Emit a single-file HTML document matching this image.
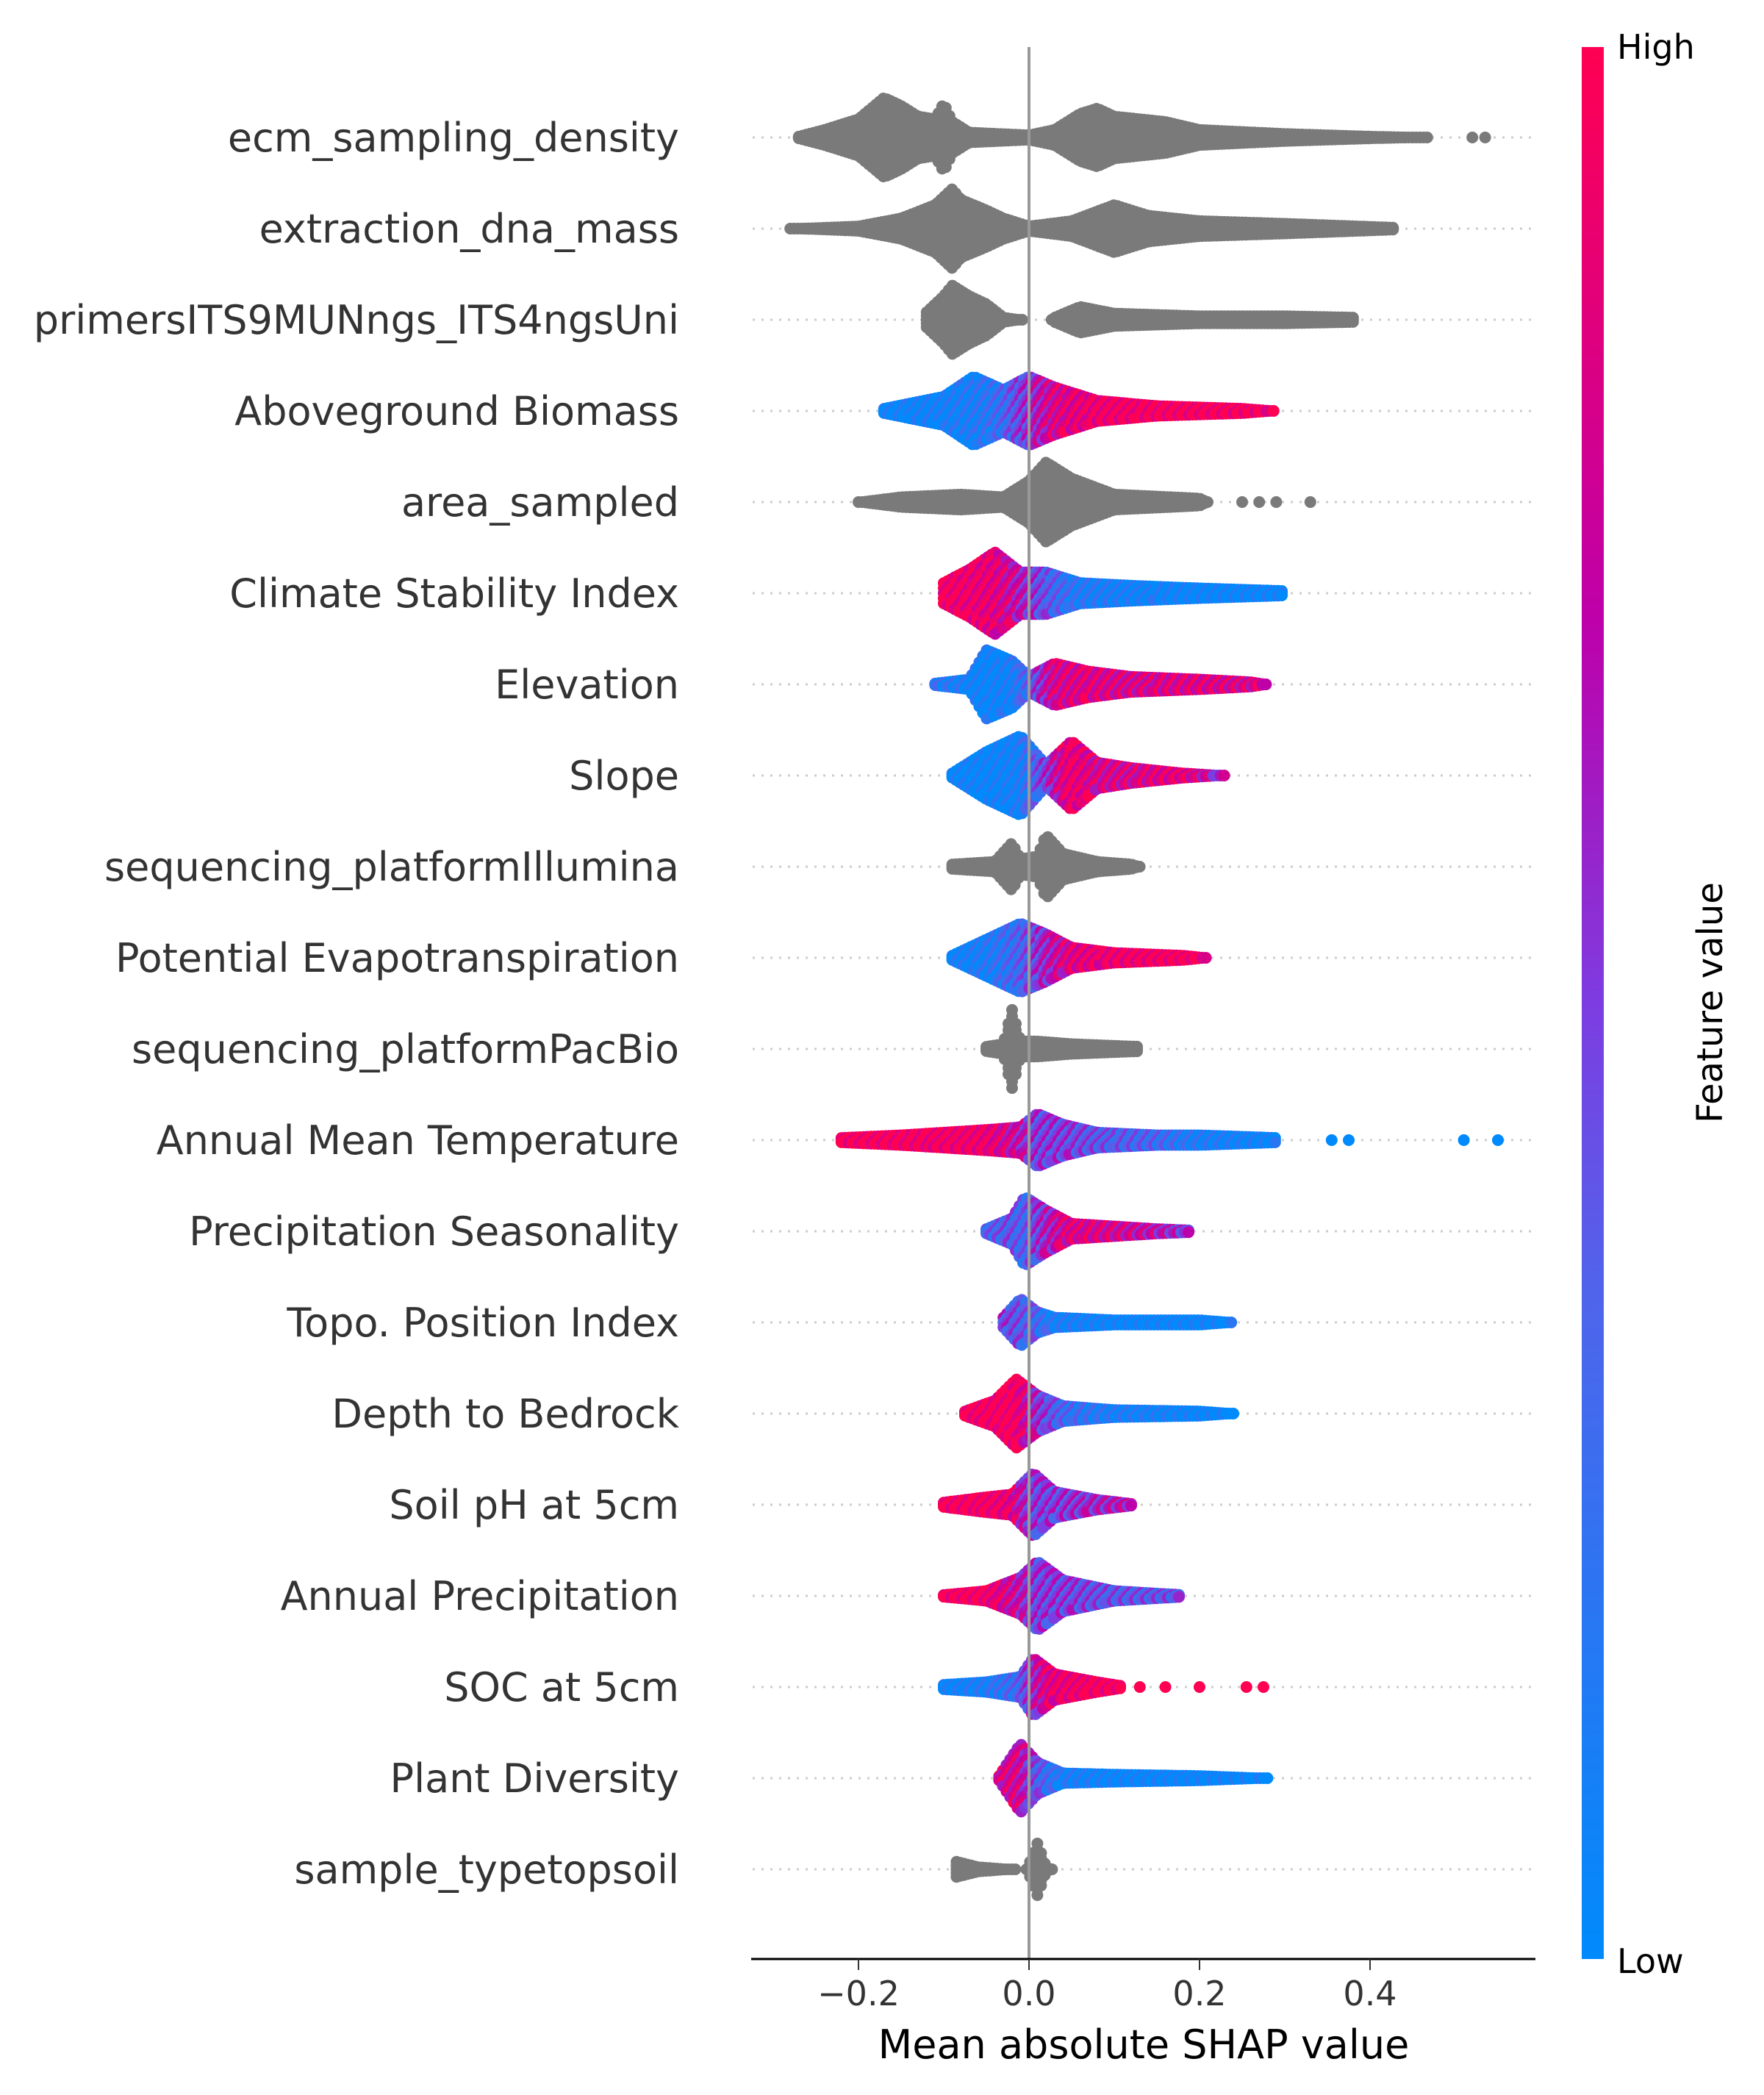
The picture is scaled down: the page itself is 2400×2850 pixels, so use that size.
<!DOCTYPE html>
<html><head><meta charset="utf-8"><style>
html,body{margin:0;padding:0;background:#fff;}
svg{display:block;font-family:"DejaVu Sans","Liberation Sans",sans-serif;}
</style></head><body>
<svg id="chart" width="2400" height="2850" viewBox="0 0 2400 2850">
<defs><linearGradient id="cb" x1="0" y1="1" x2="0" y2="0">
<stop offset="0" stop-color="rgb(0,138,251)"/><stop offset="0.35" stop-color="rgb(80,100,235)"/><stop offset="0.5" stop-color="rgb(125,60,225)"/><stop offset="0.7" stop-color="rgb(190,0,170)"/><stop offset="1" stop-color="rgb(255,0,82)"/></linearGradient></defs>
<g id="grid"></g><g id="dots"></g><g id="labels"></g>
<line x1="1400" y1="64" x2="1400" y2="2665" stroke="#999" stroke-width="4"/>
<line x1="1022" y1="2665" x2="2089" y2="2665" stroke="#000" stroke-width="3"/>
<g id="ticks"></g>
<text x="1556" y="2800" font-size="54" text-anchor="middle" fill="#000">Mean absolute SHAP value</text>
<rect x="2152" y="64" width="30" height="2601" fill="url(#cb)"/>
<text x="2200" y="80" font-size="46" fill="#000">High</text>
<text x="2200" y="2684" font-size="46" fill="#000">Low</text>
<text x="0" y="0" font-size="48" fill="#000" text-anchor="middle" transform="translate(2343,1364) rotate(-90)">Feature value</text>
</svg>
<script>
const features=["ecm_sampling_density","extraction_dna_mass","primersITS9MUNngs_ITS4ngsUni","Aboveground Biomass","area_sampled","Climate Stability Index","Elevation","Slope","sequencing_platformIllumina","Potential Evapotranspiration","sequencing_platformPacBio","Annual Mean Temperature","Precipitation Seasonality","Topo. Position Index","Depth to Bedrock","Soil pH at 5cm","Annual Precipitation","SOC at 5cm","Plant Diversity","sample_typetopsoil"];
// each knot: [shap value, density half-width, feature-value color (null = gray)]
const densities=[
[[-0.27,5],[-0.24,10],[-0.2,18],[-0.185,26],[-0.17,34],[-0.15,28],[-0.13,20],[-0.11,18],[-0.1,30],[-0.09,16],[-0.07,8],[0,6],[0.03,10],[0.06,22],[0.08,26],[0.1,20],[0.13,18],[0.16,16],[0.2,10],[0.3,7],[0.4,5],[0.47,4]],
[[-0.28,4],[-0.2,6],[-0.15,12],[-0.11,22],[-0.09,34],[-0.08,26],[-0.05,18],[-0.03,12],[0,6],[0.05,10],[0.1,22],[0.12,18],[0.14,14],[0.2,10],[0.3,8],[0.43,5]],
[[-0.12,10],[-0.1,22],[-0.09,30],[-0.07,22],[-0.05,16],[-0.03,6],[-0.01,4],[-0.005,0],[0.025,0],[0.03,6],[0.06,14],[0.1,9],[0.2,7],[0.3,7],[0.38,6]],
[[-0.17,6,0],[-0.1,15,0.05],[-0.065,30,0.1],[-0.03,20,0.25],[0,30,0.55],[0.03,22,0.8],[0.08,12,0.95],[0.15,8,1],[0.25,6,1],[0.29,4,1]],
[[-0.2,4],[-0.15,8],[-0.08,10],[-0.03,8],[0,20],[0.02,34],[0.05,22],[0.1,10],[0.2,7],[0.21,4]],
[[-0.1,12,1],[-0.07,22,0.95],[-0.04,35,0.9],[-0.01,20,0.7],[0.02,20,0.4],[0.06,12,0.15],[0.12,10,0.05],[0.2,8,0],[0.3,6,0]],
[[-0.11,5,0.2],[-0.07,8,0.05],[-0.05,30,0],[-0.02,22,0.05],[0,10,0.3],[0.03,20,0.8],[0.07,14,0.85],[0.12,10,0.8],[0.2,8,0.85],[0.26,6,0.8],[0.28,4,0.9]],
[[-0.09,6,0],[-0.05,22,0],[-0.01,34,0.05],[0.02,12,0.5],[0.05,30,0.95],[0.08,14,0.8],[0.12,10,0.8],[0.18,6,0.9],[0.23,4,0.6]],
[[-0.09,6],[-0.04,8],[-0.02,22],[-0.01,10],[0.01,12],[0.02,28],[0.04,14],[0.08,8],[0.12,6],[0.13,4]],
[[-0.09,6,0],[-0.05,18,0.1],[-0.01,30,0.3],[0.02,22,0.6],[0.05,12,0.85],[0.1,8,0.95],[0.18,6,1],[0.21,4,1]],
[[-0.05,6],[-0.03,8],[-0.02,34],[-0.01,10],[0.01,10],[0.05,8],[0.13,6]],
[[-0.22,6,1],[-0.15,8,1],[-0.05,12,0.95],[-0.01,14,0.7],[0.01,24,0.5],[0.04,16,0.5],[0.08,10,0.4],[0.15,8,0.3],[0.2,8,0.1],[0.29,6,0]],
[[-0.05,6,0.3],[-0.02,14,0.4],[-0.005,30,0.3],[0.02,20,0.6],[0.05,10,0.85],[0.1,8,0.8],[0.15,6,0.7],[0.19,5,0.5]],
[[-0.03,8,0.5],[-0.01,22,0.4],[0.01,12,0.3],[0.03,8,0.1],[0.1,6,0],[0.2,6,0],[0.24,4,0]],
[[-0.075,6,1],[-0.04,14,1],[-0.015,30,1],[0.01,18,0.6],[0.04,10,0.3],[0.1,7,0.1],[0.2,6,0],[0.24,4,0]],
[[-0.1,6,1],[-0.05,10,1],[-0.02,12,0.9],[0.005,28,0.5],[0.03,14,0.5],[0.08,8,0.6],[0.12,5,0.7]],
[[-0.1,5,1],[-0.05,8,1],[-0.01,18,0.7],[0.01,30,0.5],[0.04,16,0.5],[0.1,8,0.4],[0.18,5,0.4]],
[[-0.1,6,0],[-0.05,8,0.1],[-0.01,12,0.3],[0.005,26,0.6],[0.03,14,0.9],[0.08,8,1],[0.11,5,1]],
[[-0.035,6,0.8],[-0.01,30,0.8],[0.01,16,0.4],[0.04,8,0.1],[0.1,7,0],[0.2,6,0],[0.28,4,0]],
[[-0.085,10],[-0.06,6],[-0.02,4],[-0.012,0],[-0.005,0],[0,8],[0.01,24],[0.02,6],[0.03,3]]
];
// outlier points: [feature index, shap value, color]
const outliers=[[0,0.52,null],[0,0.535,null],[4,0.25,null],[4,0.27,null],[4,0.29,null],[4,0.33,null],[11,0.355,0],[11,0.375,0],[11,0.51,0],[11,0.55,0],[17,0.13,1],[17,0.16,1],[17,0.2,1],[17,0.255,1],[17,0.275,1]];
const tickVals=[-0.2,0.0,0.2,0.4];
const tickLabels=["\u22120.2","0.0","0.2","0.4"];

const NS="http://www.w3.org/2000/svg";
const X0=1400,PU=1160,Y0=187,DY=124;
const xs=v=>X0+v*PU, ys=i=>Y0+i*DY;
function col(v){
  const st=[[0,[0,138,251]],[0.35,[80,100,235]],[0.5,[125,60,225]],[0.7,[190,0,170]],[1,[255,0,82]]];
  v=Math.max(0,Math.min(1,v));
  for(let i=1;i<st.length;i++){if(v<=st[i][0]){const a=st[i-1],b=st[i],t=(v-a[0])/(b[0]-a[0]);
    return 'rgb('+a[1].map((c,k)=>Math.round(c+(b[1][k]-c)*t)).join(',')+')';}}
  return 'rgb(255,0,82)';
}
function mk(tag,at,parent){const e=document.createElementNS(NS,tag);for(const k in at)e.setAttribute(k,at[k]);parent.appendChild(e);return e;}
const grid=document.getElementById('grid'),dots=document.getElementById('dots'),labels=document.getElementById('labels'),ticks=document.getElementById('ticks');
features.forEach((f,i)=>{
  const g=mk('line',{x1:1024,x2:2087,y1:ys(i),y2:ys(i),stroke:'#ccc','stroke-width':3,'stroke-dasharray':'3 9'},grid);
  
  
  const t=mk('text',{x:924,y:ys(i)+19,'font-size':54,'text-anchor':'end',fill:'#333'},labels);
  t.textContent=f;
  
  
  const grp=mk('g',{},dots);
  
  
  const kn=densities[i];
  const px0=xs(kn[0][0]),px1=xs(kn[kn.length-1][0]);
  let c=0;
  for(let px=px0;px<=px1+0.1;px+=5,c++){
    const v=(px-X0)/PU;
    let j=0;while(j<kn.length-2&&kn[j+1][0]<v)j++;
    const a=kn[j],b=kn[j+1],t=Math.max(0,Math.min(1,(v-a[0])/(b[0]-a[0])));
    const hw=(a[1]+(b[1]-a[1])*t)*1.818;
    if(hw<=0.5)continue;
    const ext=Math.max(0,hw-8);
    const n=Math.ceil(ext/9);
    const sp=n>0?ext/n:0;
    for(let k=-n;k<=n;k++){
      let fill='#7a7a7a';
      if(a[2]!=null){const cv=a[2]+(b[2]-a[2])*t;fill=col(cv+(((k+c)%3+3)%3-1)*0.18);}
      mk('circle',{cx:px.toFixed(1),cy:(ys(i)+k*sp).toFixed(1),r:8,fill:fill},grp);
    }
  }
});
outliers.forEach(o=>{
  const d=mk('circle',{cx:xs(o[1]),cy:ys(o[0]),r:8,fill:o[2]==null?'#7a7a7a':col(o[2])},dots);
  
  
});
tickVals.forEach((v,i)=>{
  const l=mk('line',{x1:xs(v),x2:xs(v),y1:2665,y2:2680,stroke:'#333','stroke-width':2},ticks);
  
  
  const t=mk('text',{x:xs(v),y:2728,'font-size':46,'text-anchor':'middle',fill:'#333'},ticks);
  t.textContent=tickLabels[i];
  
  
});
</script>
</body></html>
